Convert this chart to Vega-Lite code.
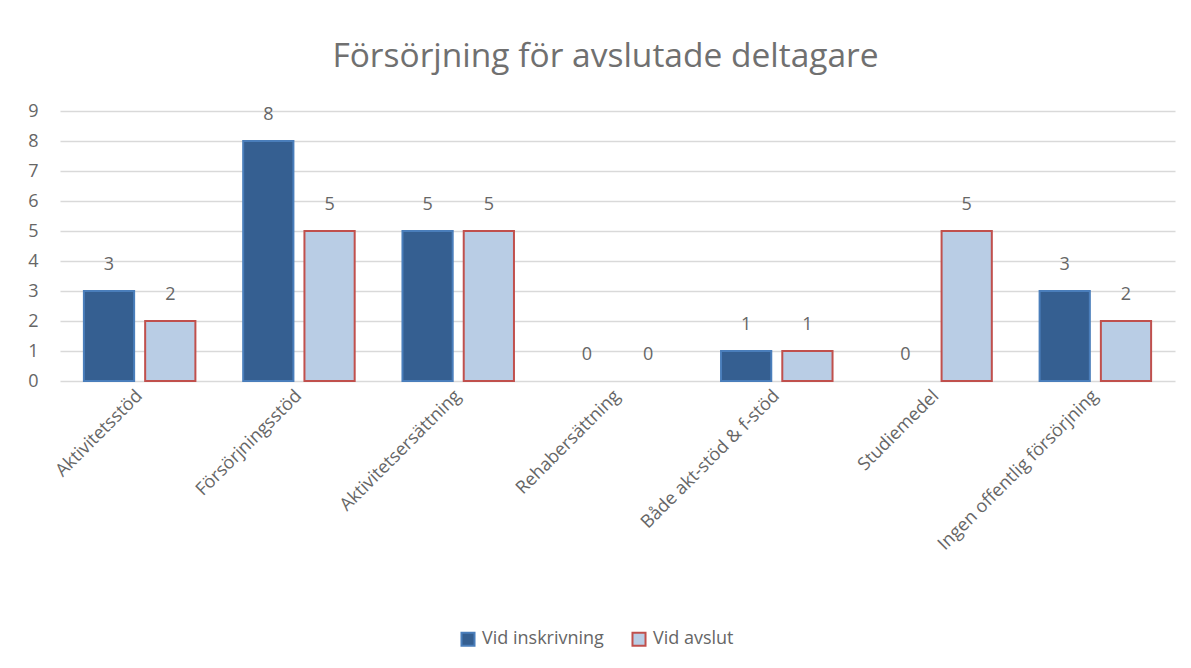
{
  "$schema": "https://vega.github.io/schema/vega-lite/v6.json",
  "autosize": {"type": "none"},
  "width": 1115,
  "height": 270,
  "padding": {"left": 60, "top": 111, "right": 16, "bottom": 287},
  "background": "white",
  "config": {
    "font": "Open Sans",
    "view": {"stroke": null}
  },
  "title": {
    "text": "Försörjning för avslutade deltagare",
    "fontSize": 33.5,
    "fontWeight": "normal",
    "color": "#707070",
    "font": "Open Sans",
    "anchor": "middle",
    "dx": -12,
    "offset": 28
  },
  "data": {
    "values": [
      {"kategori": "Aktivitetsstöd", "serie": "Vid inskrivning", "antal": 3},
      {"kategori": "Aktivitetsstöd", "serie": "Vid avslut", "antal": 2},
      {"kategori": "Försörjningsstöd", "serie": "Vid inskrivning", "antal": 8},
      {"kategori": "Försörjningsstöd", "serie": "Vid avslut", "antal": 5},
      {"kategori": "Aktivitetsersättning", "serie": "Vid inskrivning", "antal": 5},
      {"kategori": "Aktivitetsersättning", "serie": "Vid avslut", "antal": 5},
      {"kategori": "Rehabersättning", "serie": "Vid inskrivning", "antal": 0},
      {"kategori": "Rehabersättning", "serie": "Vid avslut", "antal": 0},
      {"kategori": "Både akt-stöd & f-stöd", "serie": "Vid inskrivning", "antal": 1},
      {"kategori": "Både akt-stöd & f-stöd", "serie": "Vid avslut", "antal": 1},
      {"kategori": "Studiemedel", "serie": "Vid inskrivning", "antal": 0},
      {"kategori": "Studiemedel", "serie": "Vid avslut", "antal": 5},
      {"kategori": "Ingen offentlig försörjning", "serie": "Vid inskrivning", "antal": 3},
      {"kategori": "Ingen offentlig försörjning", "serie": "Vid avslut", "antal": 2}
    ]
  },
  "encoding": {
    "x": {
      "field": "kategori",
      "type": "nominal",
      "sort": ["Aktivitetsstöd", "Försörjningsstöd", "Aktivitetsersättning", "Rehabersättning", "Både akt-stöd & f-stöd", "Studiemedel", "Ingen offentlig försörjning"],
      "scale": {"paddingInner": 0.3, "paddingOuter": 0.15},
      "axis": {
        "title": null,
        "labelAngle": -45,
        "labelAlign": "right",
        "labelBaseline": "middle",
        "labelFontSize": 18,
        "labelColor": "#666666",
        "labelPadding": 12,
        "domain": false,
        "ticks": false,
        "labelLimit": 400
      }
    },
    "xOffset": {
      "field": "serie",
      "type": "nominal",
      "sort": ["Vid inskrivning", "Vid avslut"],
      "scale": {"paddingInner": 0.18, "paddingOuter": 0}
    },
    "y": {
      "field": "antal",
      "type": "quantitative",
      "scale": {"domain": [0, 9], "nice": false},
      "axis": {
        "title": null,
        "values": [0, 1, 2, 3, 4, 5, 6, 7, 8, 9],
        "labelOverlap": false,
        "labelFontSize": 18,
        "labelColor": "#666666",
        "labelPadding": 22,
        "domain": false,
        "ticks": false,
        "gridColor": "#d9d9d9",
        "gridWidth": 1.5
      }
    }
  },
  "layer": [
    {
      "transform": [{"filter": "datum.antal > 0"}],
      "mark": {"type": "bar", "strokeWidth": 2},
      "encoding": {
        "fill": {
          "field": "serie",
          "type": "nominal",
          "sort": ["Vid inskrivning", "Vid avslut"],
          "scale": {"domain": ["Vid inskrivning", "Vid avslut"], "range": ["#355F91", "#B9CDE5"]},
          "legend": {
            "title": null,
            "orient": "none",
            "direction": "horizontal",
            "legendX": 399,
            "legendY": 519,
            "symbolType": "square",
            "symbolSize": 170,
            "symbolStrokeWidth": 2,
            "labelFontSize": 18,
            "labelColor": "#666666",
            "columnPadding": 24,
            "labelOffset": 5
          }
        },
        "stroke": {
          "field": "serie",
          "type": "nominal",
          "sort": ["Vid inskrivning", "Vid avslut"],
          "scale": {"domain": ["Vid inskrivning", "Vid avslut"], "range": ["#4A7EBB", "#C0504D"]},
          "legend": null
        }
      }
    },
    {
      "mark": {"type": "text", "baseline": "middle", "dy": -26, "fontSize": 18, "color": "#666666"},
      "encoding": {
        "text": {"field": "antal", "type": "quantitative"}
      }
    }
  ]
}
